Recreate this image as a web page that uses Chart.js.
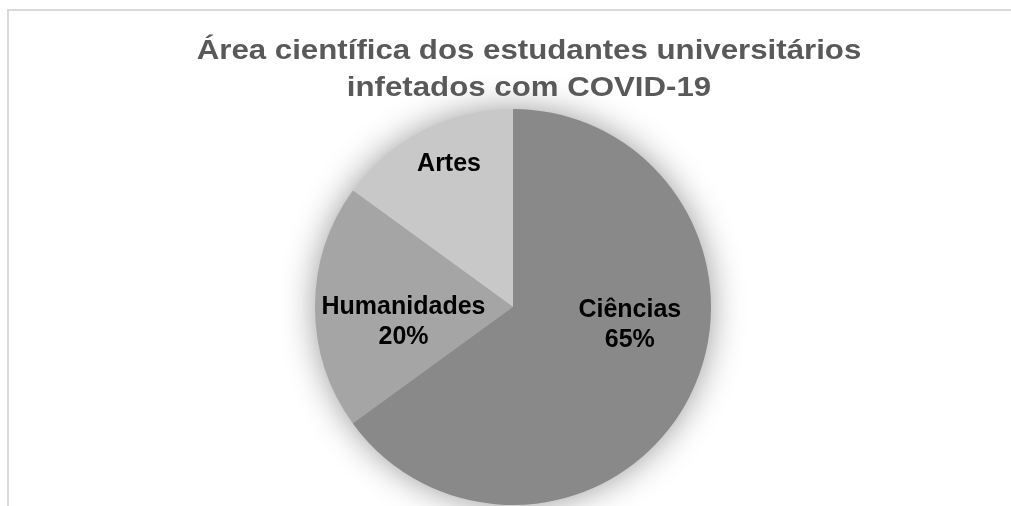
<!DOCTYPE html>
<html>
<head>
<meta charset="utf-8">
<script src="https://cdn.jsdelivr.net/npm/chart.js@4"></script>
<style>
  html, body { margin: 0; padding: 0; background: #fff; }
  #wrap { position: relative; width: 1011px; height: 506px; overflow: hidden; }
  #frame { position: absolute; left: 7px; top: 9px; width: 1100px; height: 600px;
           border-left: 2px solid #d9d9d9; border-top: 2px solid #d9d9d9; }
  canvas { position: absolute; left: 0; top: 0; }
</style>
</head>
<body>
<div id="wrap">
  <div id="frame"></div>
  <canvas id="pie" width="1011" height="506"></canvas>
</div>
<script>
// dados do gráfico
const titulo = ['Área científica dos estudantes universitários', 'infetados com COVID-19'];
const categorias = ['Ciências', 'Humanidades', 'Artes'];
const valores = [65, 20, 15];
const mostrarPercent = [true, true, false];
const cores = ['#898989', '#a5a5a5', '#c8c8c8'];

const FONT = '"Liberation Sans", Arial, Helvetica, sans-serif';

// título do Excel vem um pouco "esticado" na horizontal
const tituloPlugin = {
  id: 'tituloEsticado',
  afterDraw(chart, args, opts) {
    const ctx = chart.ctx;
    ctx.save();
    ctx.font = 'bold ' + opts.size + 'px ' + FONT;
    ctx.fillStyle = '#595959';
    ctx.textAlign = 'center';
    ctx.textBaseline = 'alphabetic';
    ctx.translate(opts.x, 0);
    ctx.scale(opts.stretch, 1);
    opts.text.forEach((t, k) => ctx.fillText(t, 0, opts.baseline + k * opts.lineGap));
    ctx.restore();
  }
};

// sombra suave por trás da pizza
const sombraPlugin = {
  id: 'sombra',
  beforeDatasetsDraw(chart) {
    const arc = chart.getDatasetMeta(0).data[0];
    if (!arc) return;
    const ctx = chart.ctx;
    ctx.save();
    ctx.shadowColor = 'rgba(0,0,0,0.42)';
    ctx.shadowBlur = 34;
    ctx.beginPath();
    ctx.arc(arc.x, arc.y, arc.outerRadius - 1, 0, Math.PI * 2);
    ctx.fillStyle = '#898989';
    ctx.fill();
    ctx.restore();
  }
};

// rótulos dentro das fatias (posição relativa ao raio, como o "melhor ajuste" do Excel)
const rotulosPlugin = {
  id: 'rotulos',
  afterDatasetsDraw(chart, args, opts) {
    const ctx = chart.ctx;
    const meta = chart.getDatasetMeta(0);
    const total = valores.reduce((a, b) => a + b, 0);
    ctx.save();
    ctx.font = 'bold 25px ' + FONT;
    ctx.fillStyle = '#000';
    ctx.textAlign = 'center';
    ctx.textBaseline = 'middle';
    meta.data.forEach((arc, i) => {
      const off = opts.offsets[i];
      const r = arc.outerRadius;
      const x = arc.x + off[0] * r;
      const y = arc.y + off[1] * r;
      const linhas = [categorias[i]];
      if (mostrarPercent[i]) linhas.push(Math.round(valores[i] / total * 100) + '%');
      const lh = 30;
      const y0 = y - (linhas.length - 1) * lh / 2;
      linhas.forEach((t, k) => ctx.fillText(t, x, y0 + k * lh));
    });
    ctx.restore();
  }
};

new Chart(document.getElementById('pie'), {
  type: 'pie',
  data: {
    labels: categorias,
    datasets: [{
      data: valores,
      backgroundColor: cores,
      borderWidth: 0,
      hoverOffset: 0
    }]
  },
  options: {
    responsive: false,
    animation: false,
    layout: { padding: { top: 109, bottom: 1, left: 15, right: 0 } },
    plugins: {
      legend: { display: false },
      tooltip: { enabled: false },
      title: { display: false },
      tituloEsticado: { text: titulo, x: 529, baseline: 59, lineGap: 37, size: 28, stretch: 1.115 },
      rotulos: {
        offsets: [[0.59, 0.09], [-0.553, 0.075], [-0.323, -0.72]]
      }
    }
  },
  plugins: [sombraPlugin, rotulosPlugin, tituloPlugin]
});
</script>
</body>
</html>
